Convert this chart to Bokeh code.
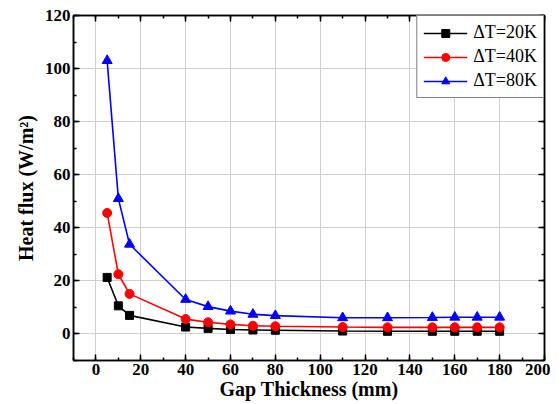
from bokeh.plotting import figure
from bokeh.models import (Range1d, LinearAxis, SingleIntervalTicker, Legend, LegendItem,
                          CustomJSTickFormatter)
from bokeh.embed import file_html
from bokeh.resources import INLINE

# ---- data ----
gap_mm = [5, 10, 15, 40, 50, 60, 70, 80, 110, 130, 150, 160, 170, 180]
flux_20K = [21.3, 10.6, 7.0, 2.6, 2.1, 1.7, 1.5, 1.4, 1.1, 1.0, 1.0, 1.0, 1.0, 1.0]
flux_40K = [45.6, 22.5, 15.1, 5.6, 4.4, 3.6, 3.1, 2.9, 2.6, 2.5, 2.5, 2.5, 2.5, 2.5]
flux_80K = [103.0, 51.0, 33.8, 13.0, 10.3, 8.6, 7.4, 6.9, 6.1, 6.1, 6.2, 6.3, 6.3, 6.3]
labels = ["ΔT=20K", "ΔT=40K", "ΔT=80K"]
x_label = "Gap Thickness (mm)"
y_label = "Heat flux (W/m²)"

FONT = "Liberation Serif"

p = figure(width=550, height=402, output_backend="svg", toolbar_location=None,
           x_range=Range1d(-10, 200), y_range=Range1d(-10, 120),
           min_border_left=73, min_border_top=15, min_border_right=6, min_border_bottom=40,
           background_fill_color="white", border_fill_color="white")
p.outline_line_color = "black"
p.outline_line_width = 1.5

xt = SingleIntervalTicker(interval=20, num_minor_ticks=2)
yt = SingleIntervalTicker(interval=20, num_minor_ticks=2)
p.xaxis.ticker = xt
p.yaxis.ticker = yt
p.xgrid.ticker = xt
p.ygrid.ticker = yt
p.grid.grid_line_color = "#cfcfcf"
p.grid.grid_line_width = 1

for ax in [p.xaxis[0], p.yaxis[0]]:
    ax.axis_line_width = 1.5
    ax.axis_line_color = "black"
    ax.major_tick_in = 6
    ax.major_tick_out = 0
    ax.minor_tick_in = 3
    ax.minor_tick_out = 0
    ax.major_tick_line_width = 1.5
    ax.minor_tick_line_width = 1.5
    ax.major_label_text_font = FONT
    ax.major_label_text_font_style = "bold"
    ax.major_label_text_font_size = "17px"
    ax.major_label_text_color = "black"
    ax.axis_label_text_font = FONT
    ax.axis_label_text_font_style = "bold"
    ax.axis_label_text_font_size = "20px"
    ax.axis_label_text_color = "black"

p.xaxis.axis_label = x_label
p.yaxis.axis_label = y_label
p.xaxis.major_label_standoff = 3
p.xaxis.axis_label_standoff = 0
p.yaxis.major_label_standoff = 3
p.yaxis.axis_label_standoff = 5

blank = CustomJSTickFormatter(code="return ''")
for loc, tk in [("above", xt), ("right", yt)]:
    ax = LinearAxis(ticker=tk, formatter=blank)
    ax.axis_line_width = 1.5
    ax.major_tick_in = 6
    ax.major_tick_out = 0
    ax.minor_tick_in = 3
    ax.minor_tick_out = 0
    ax.major_tick_line_width = 1.5
    ax.minor_tick_line_width = 1.5
    ax.major_label_text_font_size = "1px"
    ax.major_label_standoff = 0
    p.add_layout(ax, loc)

items = []
specs = [(flux_20K, "black", "square", 8),
         (flux_40K, "#ff0000", "circle", 9),
         (flux_80K, "#0000ff", "triangle", 10)]
for (ys, col, mk, sz), lab in zip(specs, labels):
    l = p.line(gap_mm, ys, line_color=col, line_width=1.6)
    s = p.scatter(gap_mm, ys, marker=mk, size=sz, fill_color=col, line_color=col)
    items.append(LegendItem(label=lab, renderers=[l, s]))

legend = Legend(items=items, location="top_right")
legend.label_text_font = FONT
legend.label_text_font_size = "18px"
legend.label_text_color = "black"
legend.border_line_color = "black"
legend.border_line_width = 1
legend.background_fill_alpha = 1
legend.margin = 0
legend.padding = 6
legend.spacing = 3
legend.glyph_width = 44
legend.label_standoff = 6
p.add_layout(legend)

open("out.html", "w").write(file_html(p, INLINE))
